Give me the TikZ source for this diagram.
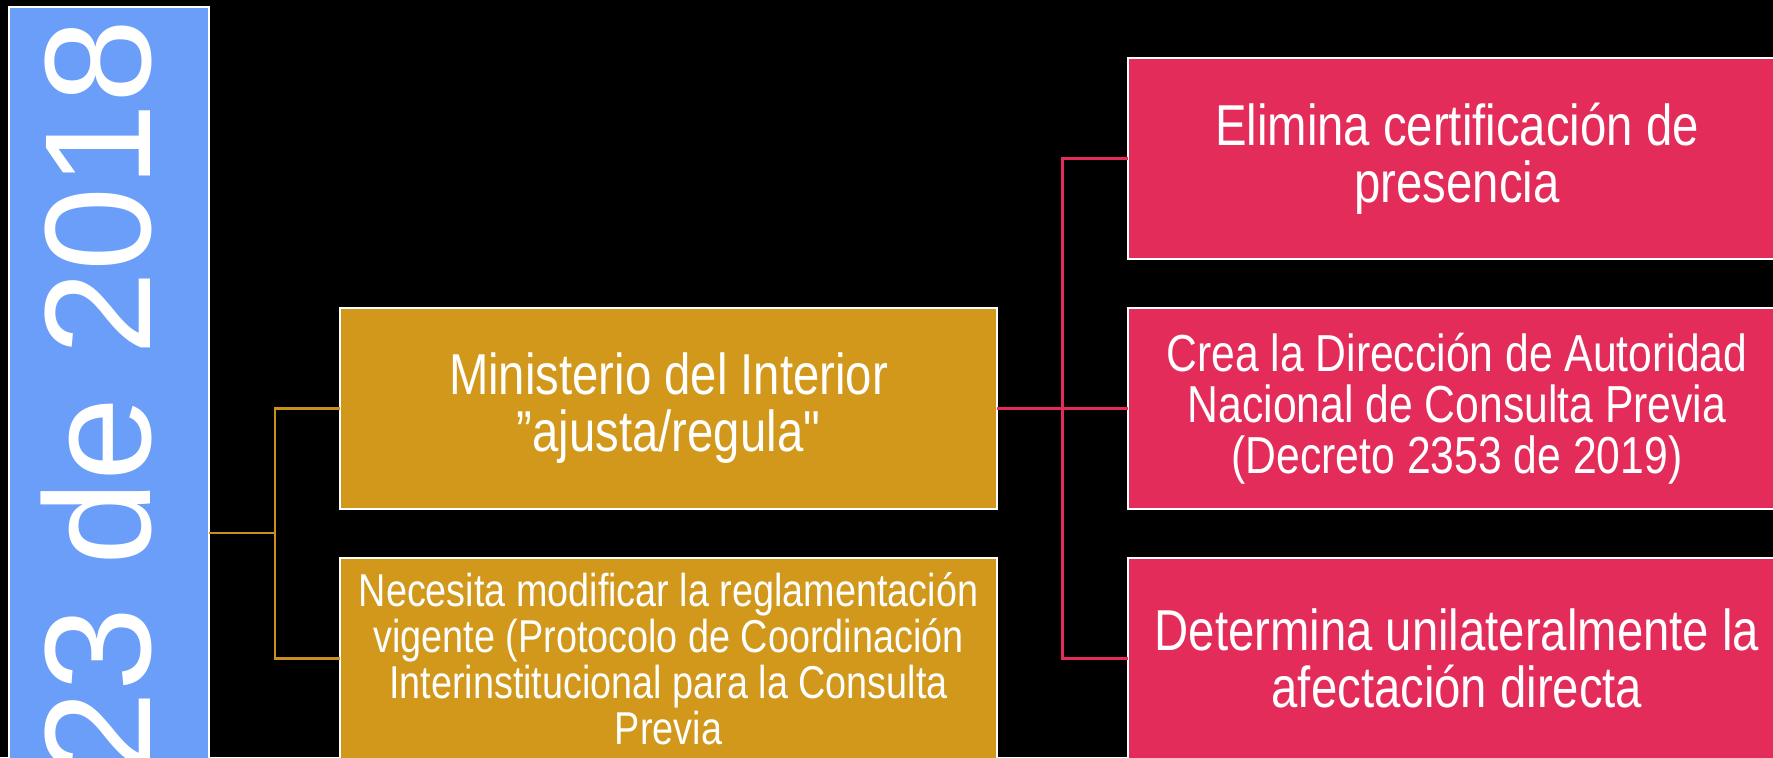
\documentclass[tikz,border=0pt]{standalone}
\usepackage{fontspec}
\setmainfont{Liberation Sans}[FakeStretch=0.82, Ligatures=TeXOff]
\newfontfamily\datefont{Liberation Sans}
\usetikzlibrary{positioning}

\definecolor{azulfecha}{HTML}{6A9EF8}
\definecolor{oro}{HTML}{D1981C}
\definecolor{orolinea}{HTML}{C8901C}
\definecolor{rojo}{HTML}{E42C5B}

\tikzset{
	caja/.style={draw=white, line width=0.6pt, text=white, align=center,
		minimum width=6.57cm, minimum height=2.01cm, inner sep=0pt, outer sep=0pt},
	cajaoro/.style={caja, fill=oro},
	cajaroja/.style={caja, fill=rojo},
	grande/.style={font=\fontsize{16.4}{16.2}\selectfont},
	ramaoro/.style={orolinea, line width=0.75pt},
	ramaroja/.style={rojo, line width=0.75pt},
}

\begin{document}
\begin{tikzpicture}[x=0.01cm, y=-0.01cm, node distance=0.49cm and 1.31cm]
	\useasboundingbox (0,0) rectangle (1773,757);
	\fill[black] (0,0) rectangle (1773,757);
	\clip (0,0) rectangle (1773,757);
	% fecha
	\node[draw=white, line width=0.6pt, fill=azulfecha, minimum width=2cm, minimum height=10.52cm, inner sep=0pt, outer sep=0pt] (fecha) at (109,533) {};
	\node[rotate=90, anchor=base east, text=white, inner sep=0pt, font=\datefont\fontsize{43}{46}\selectfont] (fechatxt) at (150,18) {23 de 2018};
	% nivel 1
	\node[cajaoro, grande] (oro1) at (668.5,408.5) {Ministerio del Interior\\”ajusta/regula"};
	\node[cajaoro, below=of oro1, font=\fontsize{13.1}{13.1}\selectfont] (oro2) {Necesita modificar la reglamentación\\vigente (Protocolo de Coordinación\\Interinstitucional para la Consulta\\Previa};
	% nivel 2
	\node[cajaroja, right=of oro1, font=\fontsize{14.8}{14.5}\selectfont] (rojo2) {Crea la Dirección de Autoridad\\Nacional de Consulta Previa\\(Decreto 2353 de 2019)};
	\node[cajaroja, grande, above=of rojo2] (rojo1) {Elimina certificación de\\presencia};
	\node[cajaroja, grande, below=of rojo2] (rojo3) {Determina unilateralmente la\\afectación directa};
	% conectores
	\draw[ramaoro] (fecha.east) -- ++(66,0) |- (oro1.west);
	\draw[ramaoro] (fecha.east) -- ++(66,0) |- (oro2.west);
	\draw[ramaroja] (oro1.east) -- ++(65,0) |- (rojo1.west);
	\draw[ramaroja] (oro1.east) -- (rojo2.west);
	\draw[ramaroja] (oro1.east) -- ++(65,0) |- (rojo3.west);
\end{tikzpicture}
\end{document}
